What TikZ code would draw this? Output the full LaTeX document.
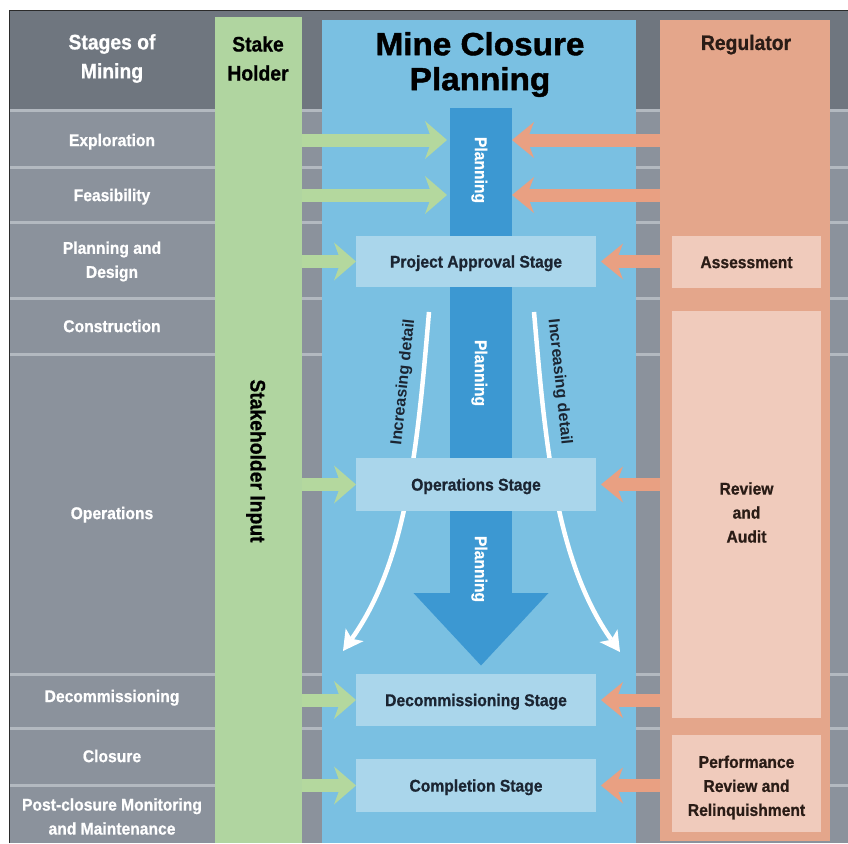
\documentclass[tikz,border=0pt]{standalone}
\usepackage{fontspec}
\setmainfont{Liberation Sans}
\newfontfamily\narrowsans{Liberation Sans}[FakeStretch=0.92,FakeBold=0.8]
\newfontfamily\titlesans{Liberation Sans}[FakeStretch=1.04,FakeBold=1.4]
\usetikzlibrary{arrows.meta}

% palette
\definecolor{hdrgray}{HTML}{6F767F}
\definecolor{rowgray}{HTML}{8B929C}
\definecolor{sepgray}{HTML}{B3B9C0}
\definecolor{frameink}{HTML}{2B2B2B}
\definecolor{stakegreen}{HTML}{B0D5A0}
\definecolor{flowgreen}{HTML}{B4D89E}
\definecolor{planblue}{HTML}{7AC0E2}
\definecolor{barblue}{HTML}{3C98D2}
\definecolor{stageblue}{HTML}{AAD6EB}
\definecolor{regorange}{HTML}{E4A68B}
\definecolor{floworange}{HTML}{E9A082}
\definecolor{regpeach}{HTML}{F0CBBC}
\definecolor{stageink}{HTML}{1B2532}
\definecolor{regink}{HTML}{2A1C16}

\newcommand{\lblfont}{\narrowsans\bfseries\fontsize{17}{24}\selectfont}
\newcommand{\slantlblfont}{\bfseries\fontsize{16}{24}\selectfont}
\newcommand{\hdrfont}{\narrowsans\bfseries\fontsize{21}{29}\selectfont}
\newcommand{\ttlfont}{\titlesans\bfseries\fontsize{32}{35}\selectfont}

\begin{document}
\begin{tikzpicture}[x=1pt, y=-1pt,
  column/.style={inner sep=0pt, outer sep=0pt, anchor=north west},
  lbl/.style={inner sep=0pt, font=\lblfont, text height=12.2pt, text depth=0pt},
  lblmulti/.style={inner sep=0pt, font=\lblfont, align=center},
  hdr/.style={inner sep=0pt, font=\hdrfont, text height=15pt, text depth=0pt},
  hdrmulti/.style={inner sep=0pt, font=\hdrfont, align=center},
  rowtext/.style={lbl, text=white},
  rowtextmulti/.style={lblmulti, text=white},
  stagebox/.style={lbl, fill=stageblue, text=stageink, outer sep=0pt,
    anchor=north west, minimum width=240pt},
  regbox/.style={fill=regpeach, inner sep=0pt, outer sep=0pt,
    anchor=north west, minimum width=149pt},
  regtext/.style={lbl, text=regink},
  regtextmulti/.style={lblmulti, text=regink},
  bartext/.style={lbl, text=white, rotate=-90},
  detailtext/.style={inner sep=0pt, font=\slantlblfont, text height=11.5pt,
    text depth=0pt, text=stageink},
  greenflow/.style={draw=flowgreen, line width=13pt,
    -{Stealth[length=22pt, width=38pt, inset=7pt, line width=0pt]}},
  orangeflow/.style={draw=floworange, line width=13pt,
    -{Stealth[length=22pt, width=36pt, inset=7pt, line width=0pt]}},
  detailflow/.style={draw=white, line width=4.5pt,
    -{Stealth[length=20pt, width=22pt, inset=5pt, line width=0pt]}}
]
\useasboundingbox (0,0) rectangle (848,843);

% backdrop: header band, stage rows and their separators
\fill[white] (0,0) rectangle (848,843);
\fill[rowgray] (10,11) rectangle (848,843);
\fill[hdrgray] (10,11) rectangle (848,109.5);
\foreach \yy in {110.5,167.5,222.5,298.5,354.5,674,728,785}
  \draw[sepgray, line width=3pt] (10,\yy) -- (848,\yy);
\draw[frameink, line width=1pt] (9.5,843) -- (9.5,10.5) -- (848,10.5);

% the three coloured columns
\node[column, fill=stakegreen, minimum width=87pt, minimum height=826pt] (stake) at (215,17) {};
\node[column, fill=planblue, minimum width=314pt, minimum height=823pt] (plan) at (322,20) {};
\node[column, fill=regorange, minimum width=170pt, minimum height=821pt] (reg) at (660,20) {};

% central planning bar and its arrowhead
\node[column, fill=barblue, minimum width=62pt, minimum height=486pt] (bar) at (450,108) {};
\fill[barblue] (413.5,593) -- (548.5,593) -- (481,665.5) -- cycle;

% widening "increasing detail" arrows
\coordinate (ltop) at (429,312);
\coordinate (lend) at (343,651);
\coordinate (rtop) at (534,312);
\coordinate (rend) at (620,652);
\draw[detailflow] (ltop) .. controls (418,440) and (408,560) .. (lend);
\draw[detailflow] (rtop) .. controls (545,440) and (555,560) .. (rend);

% stage boxes
\node[stagebox, minimum height=51pt] (approval) at (356,236) {Project Approval Stage};
\node[stagebox, minimum height=53pt] (operations) at (356,458) {Operations Stage};
\node[stagebox, minimum height=52pt] (decom) at (356,674) {Decommissioning Stage};
\node[stagebox, minimum height=53pt] (completion) at (356,759) {Completion Stage};

% regulator boxes
\node[regbox, minimum height=52pt] (assess) at (672,236) {};
\node[regbox, minimum height=407pt] (review) at (672,311) {};
\node[regbox, minimum height=97pt] (perf) at (672,735) {};
\node[regtext] (assesstxt) at (assess.center) {Assessment};
\node[regtextmulti] (reviewtxt) at (746.5,512.5) {Review\\and\\Audit};
\node[regtextmulti] (perftxt) at (746.5,787.5) {Performance\\Review and\\Relinquishment};

% headings
\node[hdrmulti, text=white] (stagesh) at (112,58.5) {Stages of\\Mining};
\node[hdrmulti, text=black] (stakeh) at (258,58.5) {Stake\\Holder};
\node[inner sep=0pt, font=\ttlfont, align=center, text=black] (title) at (480,64.5) {Mine Closure\\Planning};
\node[hdr, text=regink] (regh) at (746,42.5) {Regulator};
\node[hdr, text=black, rotate=-90] (stakein) at (258,461) {Stakeholder Input};

% stages of mining
\node[rowtext] (explo) at (112,140) {Exploration};
\node[rowtext] (feas) at (112,195) {Feasibility};
\node[rowtextmulti] (pland) at (112,261.5) {Planning and\\Design};
\node[rowtext] (constr) at (112,326) {Construction};
\node[rowtext] (opsl) at (112,513) {Operations};
\node[rowtext] (decoml) at (112,696) {Decommissioning};
\node[rowtext] (closl) at (112,756) {Closure};
\node[rowtextmulti] (postl) at (112,816.5) {Post-closure Monitoring\\and Maintenance};

% planning labels on the bar
\node[bartext] (plan1) at (481,170) {Planning};
\node[bartext] (plan2) at (481,373) {Planning};
\node[bartext] (plan3) at (481,569) {Planning};

% increasing detail labels
\node[detailtext, rotate=84] (detl) at (402,382) {Increasing detail};
\node[detailtext, rotate=-84] (detr) at (561,382) {Increasing detail};

% stakeholder input flows
\draw[greenflow, shorten >=3pt] (stake.east |- explo) -- (bar.west |- explo);
\draw[greenflow, shorten >=3pt] (stake.east |- feas) -- (bar.west |- feas);
\draw[greenflow] (stake.east |- approval.west) -- (approval.west);
\draw[greenflow] (stake.east |- operations.west) -- (operations.west);
\draw[greenflow] (stake.east |- decom.west) -- (decom.west);
\draw[greenflow] (stake.east |- completion.west) -- (completion.west);

% regulator flows
\draw[orangeflow] (reg.west |- explo) -- (bar.east |- explo);
\draw[orangeflow] (reg.west |- feas) -- (bar.east |- feas);
\draw[orangeflow, shorten >=5pt] (reg.west |- approval.east) -- (approval.east);
\draw[orangeflow, shorten >=5pt] (reg.west |- operations.east) -- (operations.east);
\draw[orangeflow, shorten >=5pt] (reg.west |- decom.east) -- (decom.east);
\draw[orangeflow, shorten >=5pt] (reg.west |- completion.east) -- (completion.east);
\end{tikzpicture}
\end{document}
